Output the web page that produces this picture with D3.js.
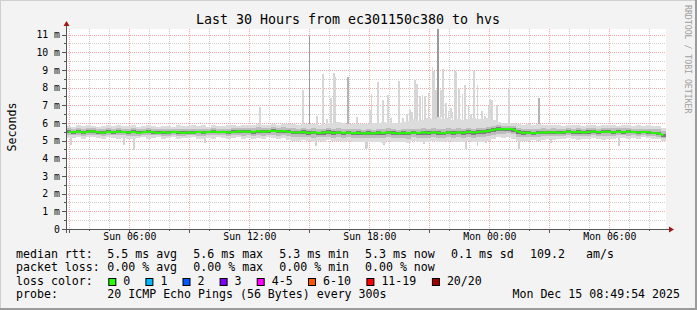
<!DOCTYPE html>
<html>
<head>
<meta charset="utf-8">
<script src="https://cdn.jsdelivr.net/npm/d3@7"></script>
<style>
body { margin: 0; background: #f3f3f3; }
svg { display: block; }
text { font-family: "DejaVu Sans Mono", monospace; }
</style>
</head>
<body>
<svg id="chart"></svg>
<script>
// time window of the graph
var startTime = "2025-12-14 02:49:54";
var endTime = "2025-12-15 08:49:54";
var binMinutes = 15;
var stepMinutes = 5;

// median rtt per 15 minute bin (ms)
var medianMs = [
	5.50,5.47,5.52,5.46,5.50,5.53,5.48,5.45,5.51,5.47,5.52,5.49,
	5.46,5.50,5.44,5.48,5.52,5.47,5.44,5.49,5.45,5.50,5.47,5.44,
	5.48,5.45,5.50,5.46,5.49,5.52,5.47,5.50,5.46,5.49,5.53,5.50,
	5.52,5.49,5.54,5.50,5.53,5.56,5.52,5.55,5.51,5.48,5.46,5.49,
	5.44,5.47,5.43,5.46,5.49,5.44,5.47,5.43,5.46,5.42,5.45,5.40,
	5.44,5.41,5.46,5.43,5.47,5.44,5.40,5.45,5.42,5.46,5.43,5.47,
	5.44,5.48,5.45,5.42,5.47,5.44,5.48,5.45,5.50,5.46,5.49,5.52,
	5.55,5.62,5.66,5.64,5.67,5.63,5.50,5.44,5.46,5.42,5.45,5.48,
	5.46,5.49,5.45,5.48,5.52,5.47,5.50,5.46,5.49,5.53,5.48,5.51,
	5.50,5.47,5.51,5.48,5.52,5.49,5.46,5.50,5.47,5.43,5.42,5.30
];
// fastest ping per bin (ms)
var smokeLowMs = [
	5.15,5.15,5.20,5.12,5.18,5.20,5.14,5.10,5.18,5.16,5.12,5.14,
	5.10,5.12,5.14,5.18,5.12,5.16,5.20,5.10,5.15,5.18,5.12,5.16,
	5.14,5.18,5.10,5.12,5.16,5.12,5.18,5.14,5.10,5.16,5.18,5.12,
	5.14,5.10,5.16,5.12,5.18,5.15,5.10,5.14,5.05,5.00,4.98,5.02,
	4.98,4.94,5.00,4.95,5.02,4.96,5.00,4.92,4.98,4.95,4.90,4.94,
	4.92,4.95,4.90,4.88,4.98,4.92,4.95,4.90,4.87,4.96,4.92,4.90,
	4.92,4.96,4.90,4.94,4.98,4.92,4.95,4.90,4.96,4.92,4.94,4.95,
	5.00,5.10,5.18,5.15,5.20,5.12,5.00,4.98,5.00,5.04,5.00,5.05,
	5.10,5.06,5.12,5.08,5.14,5.10,5.05,5.12,5.08,5.14,5.10,5.06,
	5.12,5.10,5.14,5.14,5.10,5.16,5.12,5.18,5.14,5.10,5.08,5.00
];
// slowest ping per bin (ms), single spikes listed below
var smokeHighMs = [
	5.85,5.80,5.86,5.82,5.90,5.84,5.80,5.83,5.88,5.82,5.86,5.84,
	5.82,5.86,5.80,5.84,5.88,5.82,5.80,5.85,5.83,5.80,5.86,5.82,
	5.84,5.88,5.82,5.86,5.80,5.90,5.84,5.82,5.86,5.88,5.84,5.86,
	5.90,5.86,5.92,5.88,5.90,5.94,5.88,5.92,5.95,5.92,5.90,5.94,
	5.95,5.92,5.90,5.96,6.02,5.98,6.04,6.00,5.94,5.95,5.92,5.96,
	5.96,5.98,6.00,6.05,5.98,6.02,6.00,6.05,6.12,6.20,6.10,6.18,
	6.30,6.22,6.35,6.20,6.28,6.15,6.22,6.18,6.25,6.30,6.20,6.25,
	6.28,6.15,6.05,6.02,6.00,5.98,5.94,5.90,5.92,5.88,5.94,5.90,
	5.88,5.86,5.90,5.84,5.88,5.86,5.90,5.84,5.88,5.86,5.84,5.88,
	5.86,5.90,5.84,5.88,5.86,5.84,5.88,5.82,5.86,5.84,5.82,5.70
];
// single slow samples: [day hh:mm, top ms, pings that slow]
var spikes = [
	["14 12:29", 6.90, 1], ["14 14:39", 7.88, 1], ["14 14:58", 10.90, 3],
	["14 15:39", 8.77, 1], ["14 16:02", 7.40, 1], ["14 16:12", 8.83, 1],
	["14 16:16", 8.60, 1], ["14 16:54", 8.58, 2], ["14 17:59", 6.75, 1],
	["14 18:04", 7.64, 1], ["14 18:24", 8.32, 1], ["14 18:39", 7.32, 1],
	["14 18:54", 7.57, 1], ["14 19:03", 6.28, 1], ["14 19:27", 8.40, 1],
	["14 19:39", 6.28, 1], ["14 20:00", 6.75, 1], ["14 20:15", 8.45, 1],
	["14 20:20", 8.20, 1], ["14 20:30", 7.50, 1], ["14 20:37", 7.57, 1],
	["14 20:44", 7.50, 1], ["14 20:55", 7.70, 1], ["14 21:07", 9.15, 1],
	["14 21:12", 8.92, 1], ["14 21:17", 7.88, 1], ["14 21:24", 11.50, 3],
	["14 21:32", 7.88, 1], ["14 21:39", 9.07, 1], ["14 21:47", 7.13, 1],
	["14 21:55", 6.70, 1], ["14 22:02", 6.85, 1], ["14 22:07", 6.60, 1],
	["14 22:14", 8.96, 1], ["14 22:19", 8.90, 1], ["14 22:27", 7.94, 1],
	["14 22:37", 7.64, 1], ["14 22:44", 8.17, 1], ["14 22:55", 6.94, 1],
	["14 23:02", 6.50, 1], ["14 23:12", 8.92, 1], ["14 23:22", 8.17, 1],
	["14 23:35", 6.68, 1], ["14 23:45", 6.40, 1], ["14 23:55", 6.94, 1],
	["15 00:00", 7.34, 1], ["15 00:05", 7.32, 1], ["15 00:20", 7.00, 1],
	["15 00:57", 7.94, 1], ["15 02:27", 7.41, 2],
	["14 15:20", 6.40, 1], ["14 15:50", 6.20, 1], ["14 17:20", 6.35, 1],
	["14 19:50", 6.50, 1], ["14 20:05", 6.60, 1]
];
// single fast samples: [day hh:mm, bottom ms]
var dips = [
	["14 03:02", 4.78], ["14 05:42", 4.74], ["14 06:11", 4.49], ["14 09:44", 4.87],
	["14 15:17", 4.70], ["14 17:47", 4.55], ["14 17:52", 4.60], ["14 18:41", 4.75],
	["14 19:56", 4.87], ["14 20:41", 4.80], ["14 22:47", 4.55], ["14 23:22", 4.68],
	["14 23:47", 4.85], ["15 01:26", 4.55], ["15 03:02", 4.85], ["15 06:26", 4.68]
];

var yTicks = [0,1,2,3,4,5,6,7,8,9,10,11];
var xLabelTimes = ["14 06:00", "14 12:00", "14 18:00", "15 00:00", "15 06:00"];

var title = "Last 30 Hours from ec301150c380 to hvs";
var rttStats = ["5.5 ms avg", "5.6 ms max", "5.3 ms min", "5.3 ms now", "0.1 ms sd", "109.2", "am/s"];
var lossStats = ["0.00 % avg", "0.00 % max", "0.00 % min", "0.00 % now"];
var lossLabels = ["0", "1", "2", "3", "4-5", "6-10", "11-19", "20/20"];
var probeText = "20 ICMP Echo Pings (56 Bytes) every 300s";
var stampText = "Mon Dec 15 08:49:54 2025";

var lossColors = ["#26ff00", "#00b8ff", "#0059ff", "#7e00ff", "#ff00ff", "#ff5500", "#ff0000", "#a10000"];

var W = 697, H = 310;
var svg = d3.select("#chart").attr("width", W).attr("height", H);

var parseSec = d3.utcParse("%Y-%m-%d %H:%M:%S");
var parseMin = d3.utcParse("%Y-%m-%d %H:%M");
var day = function(s){ return parseMin("2025-12-" + s); };
var t0 = parseSec(startTime), t1 = parseSec(endTime);
var binMs = binMinutes * 60000, stepMs = stepMinutes * 60000;

var x = d3.scaleUtc().domain([t0, t1]).range([66, 666]);
var y = d3.scaleLinear().domain([0, 11.32]).range([229, 29]);

//frame
svg.append("rect").attr("width", W).attr("height", H).attr("fill", "#f3f3f3");
svg.append("rect").attr("x", 0).attr("y", 0).attr("width", W).attr("height", 1).attr("fill", "#cfcfcf");
svg.append("rect").attr("x", 0).attr("y", 0).attr("width", 1).attr("height", H).attr("fill", "#cfcfcf");
svg.append("rect").attr("x", W - 2).attr("y", 0).attr("width", 2).attr("height", H).attr("fill", "#9b9b9b");
svg.append("rect").attr("x", 0).attr("y", H - 2).attr("width", W).attr("height", 2).attr("fill", "#9b9b9b");

svg.append("rect").attr("x", 66).attr("y", 29).attr("width", 600).attr("height", 200).attr("fill", "#ffffff");

svg.append("defs").append("clipPath").attr("id", "plot")
	.append("rect").attr("x", 66).attr("y", 29).attr("width", 600).attr("height", 200);

//grid
var grid = svg.append("g").attr("stroke-width", 1).attr("shape-rendering", "crispEdges").attr("stroke-dasharray", "1,1");
var hours = d3.utcHour.range(t0, t1);
grid.selectAll("line.v").data(hours).join("line")
	.attr("x1", d => Math.round(x(d)) + 0.5).attr("x2", d => Math.round(x(d)) + 0.5)
	.attr("y1", 29).attr("y2", 229)
	.attr("stroke", d => d.getUTCHours() % 3 === 0 ? "#f3a9a9" : "#cfcfcf");
var halfSteps = d3.range(1, 23).map(d => d / 2);
grid.selectAll("line.h").data(halfSteps).join("line")
	.attr("y1", d => Math.round(y(d)) + 0.5).attr("y2", d => Math.round(y(d)) + 0.5)
	.attr("x1", 66).attr("x2", 666)
	.attr("stroke", d => d % 1 === 0 ? "#f3a9a9" : "#cfcfcf");

//smoke
var bins = medianMs.map(function(m, i){
	var a = new Date(t0.getTime() + i * binMs);
	var lo = smokeLowMs[i], hi = smokeHighMs[i], capHi = Math.min(hi, m + 0.4);
	return {
		a: a, b: new Date(a.getTime() + binMs), mid: new Date(a.getTime() + binMs / 2),
		med: m, lo: lo, hi: hi,
		inLo: m - (m - lo) * 0.55, inHi: m + (capHi - m) * 0.55,
		coreLo: m - (m - lo) * 0.22, coreHi: m + (capHi - m) * 0.22
	};
});
var binOf = function(t){ return bins[Math.max(0, Math.min(bins.length - 1, Math.floor((t - t0) / binMs)))]; };

var smoke = svg.append("g").attr("clip-path", "url(#plot)").attr("shape-rendering", "crispEdges");
var layers = [["lo", "hi", "#dcdcdc"], ["inLo", "inHi", "#bdbdbd"], ["coreLo", "coreHi", "#7a7a7a"]];
layers.forEach(function(l){
	smoke.append("g").attr("fill", l[2]).selectAll("rect").data(bins).join("rect")
		.attr("x", d => x(d.a)).attr("width", d => x(d.b) - x(d.a))
		.attr("y", d => y(d[l[1]])).attr("height", d => y(d[l[0]]) - y(d[l[1]]));
});

var spikeData = spikes.map(s => ({t: day(s[0]), v: s[1], n: s[2]}));
var spikeColor = d3.scaleOrdinal().domain([1, 2, 3]).range(["#d6d6d6", "#b4b4b4", "#9a9a9a"]);
smoke.append("g").selectAll("rect").data(spikeData).join("rect")
	.attr("x", d => x(d.t)).attr("width", d => Math.max(1, x(new Date(d.t.getTime() + stepMs)) - x(d.t)))
	.attr("y", d => y(d.v)).attr("height", d => y(binOf(d.t).hi) - y(d.v))
	.attr("fill", d => spikeColor(d.n));

var dipData = dips.map(s => ({t: day(s[0]), v: s[1]}));
smoke.append("g").attr("fill", "#d2d2d2").selectAll("rect").data(dipData).join("rect")
	.attr("x", d => x(d.t)).attr("width", d => Math.max(1, x(new Date(d.t.getTime() + stepMs)) - x(d.t)))
	.attr("y", d => y(binOf(d.t).lo)).attr("height", d => y(d.v) - y(binOf(d.t).lo));

//median
var line = d3.line().x(d => x(d.mid)).y(d => y(d.med));
svg.append("path").datum(bins)
	.attr("fill", "none").attr("stroke", lossColors[0]).attr("stroke-width", 2)
	.attr("d", line);

//axes
var axisColor = "#555555", arrowColor = "#a01515";
var yAxis = svg.append("g").attr("transform", "translate(66,0)")
	.call(d3.axisLeft(y).tickValues(yTicks).tickSize(4).tickPadding(2)
		.tickFormat(d => d === 0 ? "0" : d + " m"));
yAxis.select(".domain").remove();
yAxis.selectAll("line").attr("stroke", axisColor).attr("shape-rendering", "crispEdges");
yAxis.selectAll("text").attr("font-size", "9.8px").attr("fill", "#000")
	.attr("font-family", "DejaVu Sans Mono").attr("x", -6);

var halfTicks = svg.append("g").attr("stroke", axisColor).attr("shape-rendering", "crispEdges");
halfTicks.selectAll("line").data(halfSteps.filter(d => d % 1 !== 0)).join("line")
	.attr("x1", 64).attr("x2", 66).attr("y1", d => Math.round(y(d)) + 0.5).attr("y2", d => Math.round(y(d)) + 0.5);

var xTicks = svg.append("g").attr("stroke", axisColor).attr("shape-rendering", "crispEdges");
xTicks.selectAll("line").data(hours).join("line")
	.attr("x1", d => Math.round(x(d)) + 0.5).attr("x2", d => Math.round(x(d)) + 0.5)
	.attr("y1", 229).attr("y2", d => d.getUTCHours() % 3 === 0 ? 233 : 231);

var xAxis = svg.append("g").attr("transform", "translate(0,229)")
	.call(d3.axisBottom(x).tickValues(xLabelTimes.map(day)).tickSize(0).tickPadding(4.5)
		.tickFormat(d3.utcFormat("%a %H:%M")));
xAxis.select(".domain").remove();
xAxis.selectAll("text").attr("font-size", "9.8px").attr("fill", "#000").attr("font-family", "DejaVu Sans Mono");

svg.append("line").attr("x1", 62).attr("x2", 670).attr("y1", 229.5).attr("y2", 229.5)
	.attr("stroke", axisColor).attr("shape-rendering", "crispEdges");
svg.append("line").attr("x1", 66.5).attr("x2", 66.5).attr("y1", 233).attr("y2", 25)
	.attr("stroke", axisColor).attr("shape-rendering", "crispEdges");
svg.append("path").attr("d", "M669,226.5L674,229.5L669,232.5Z").attr("fill", arrowColor);
svg.append("path").attr("d", "M63.5,26L66.5,21L69.5,26Z").attr("fill", arrowColor);

//texts
svg.append("text").attr("x", 348).attr("y", 23.5).attr("text-anchor", "middle")
	.attr("font-size", "13.3px").text(title);
svg.append("text").attr("transform", "translate(16,127) rotate(-90)").attr("text-anchor", "middle")
	.attr("font-size", "11.6px").text("Seconds");
svg.append("text").attr("transform", "translate(684.5,5) rotate(90)")
	.attr("font-size", "8.2px").attr("fill", "#a0a0a0").text("RRDTOOL / TOBI OETIKER");

//legend
var lg = svg.append("g").attr("font-size", "11.6px").attr("fill", "#000");
var rowY = [257.8, 271.2, 284.6, 298];
var colX = [107.3, 193.3, 279.3, 365, 451, 530, 586];
lg.append("text").attr("x", 16).attr("y", rowY[0]).text("median rtt:");
rttStats.forEach((s, i) => lg.append("text").attr("x", colX[i]).attr("y", rowY[0]).text(s));
lg.append("text").attr("x", 16).attr("y", rowY[1]).text("packet loss:");
lossStats.forEach((s, i) => lg.append("text").attr("x", colX[i]).attr("y", rowY[1]).text(s));
lg.append("text").attr("x", 16).attr("y", rowY[2]).text("loss color:");
var sx = 108.3;
lossLabels.forEach(function(s, i){
	lg.append("rect").attr("x", sx + 0.5).attr("y", 278.5).attr("width", 7).attr("height", 7)
		.attr("fill", lossColors[i]).attr("stroke", "#000").attr("stroke-width", 1);
	lg.append("text").attr("x", sx + 15).attr("y", rowY[2]).text(s);
	sx += 30 + s.length * 7.1;
});
lg.append("text").attr("x", 16).attr("y", rowY[3]).text("probe:");
lg.append("text").attr("x", 107.3).attr("y", rowY[3]).text(probeText);
lg.append("text").attr("x", 680).attr("y", rowY[3]).attr("text-anchor", "end").text(stampText);
</script>
</body>
</html>
